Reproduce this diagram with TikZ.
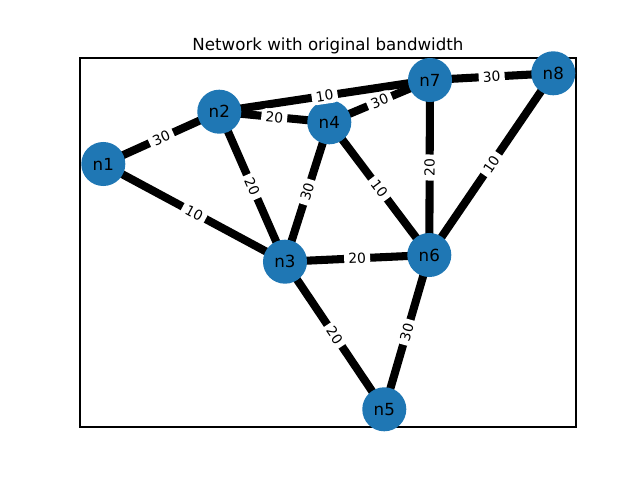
\documentclass[tikz,border=0pt]{standalone}
\usepackage{fontspec}
\setmainfont{DejaVu Sans}
\usetikzlibrary{backgrounds}
\definecolor{tabblue}{HTML}{1F77B4}
\begin{document}
\begin{tikzpicture}[x=0.72pt,y=-0.72pt,
  vertex/.style={circle,fill=tabblue,minimum size=31.7pt,inner sep=0pt,font=\fontsize{12}{14}\selectfont},
  link/.style={line width=5.8pt},
  lbl/.style={fill=white,rounded corners=3pt,inner xsep=3pt,inner ysep=2pt,font=\fontsize{10}{12}\selectfont,sloped,midway}]
\useasboundingbox (0,0) rectangle (640,480);
\node[font=\fontsize{12}{14}\selectfont,anchor=base] (title) at (328,50) {Network with original bandwidth};
\node[vertex] (n1) at (103.3,164) {n1};
\node[vertex] (n2) at (219.3,111.7) {n2};
\node[vertex] (n3) at (285,261.7) {n3};
\node[vertex] (n4) at (329.3,122.3) {n4};
\node[vertex] (n5) at (384.3,409.3) {n5};
\node[vertex] (n6) at (429.3,255) {n6};
\node[vertex] (n7) at (430,80) {n7};
\node[vertex] (n8) at (553.3,73.3) {n8};
\begin{scope}[on background layer]
\draw[line width=0.8pt] (80,58) rectangle (576,427);
\draw[link] (n1.center) -- (n2.center);
\draw[link] (n1.center) -- (n3.center);
\draw[link] (n2.center) -- (n7.center);
\draw[link] (n2.center) -- (n4.center);
\draw[link] (n2.center) -- (n3.center);
\draw[link] (n4.center) -- (n7.center);
\draw[link] (n4.center) -- (n3.center);
\draw[link] (n4.center) -- (n6.center);
\draw[link] (n7.center) -- (n8.center);
\draw[link] (n7.center) -- (n6.center);
\draw[link] (n8.center) -- (n6.center);
\draw[link] (n3.center) -- (n6.center);
\draw[link] (n3.center) -- (n5.center);
\draw[link] (n6.center) -- (n5.center);
\end{scope}
\path (n1.center) -- (n2.center) node[lbl] {30};
\path (n1.center) -- (n3.center) node[lbl] {10};
\path (n2.center) -- (n7.center) node[lbl] {10};
\path (n2.center) -- (n4.center) node[lbl] {20};
\path (n2.center) -- (n3.center) node[lbl] {20};
\path (n4.center) -- (n7.center) node[lbl] {30};
\path (n4.center) -- (n3.center) node[lbl] {30};
\path (n4.center) -- (n6.center) node[lbl] {10};
\path (n7.center) -- (n8.center) node[lbl] {30};
\path (n7.center) -- (n6.center) node[lbl] {20};
\path (n8.center) -- (n6.center) node[lbl] {10};
\path (n3.center) -- (n6.center) node[lbl] {20};
\path (n3.center) -- (n5.center) node[lbl] {20};
\path (n6.center) -- (n5.center) node[lbl] {30};
\end{tikzpicture}
\end{document}
